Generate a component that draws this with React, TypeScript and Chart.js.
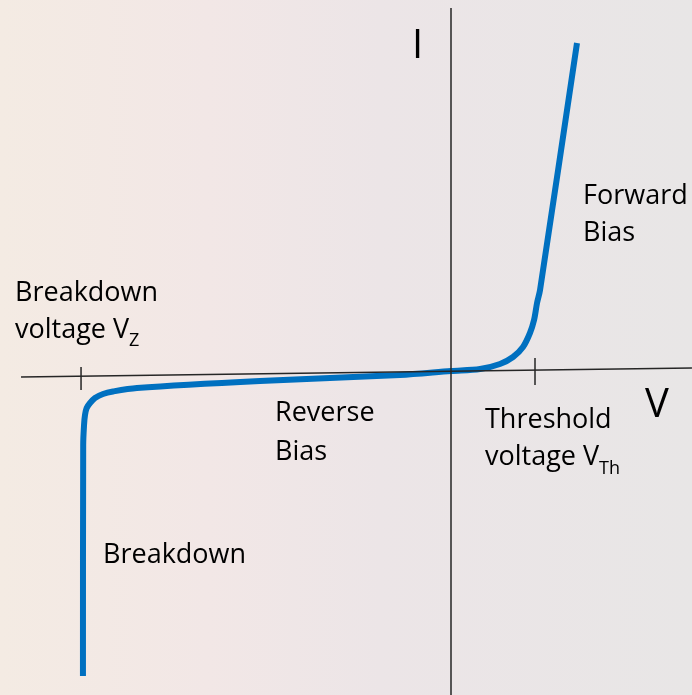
import React, { useEffect, useRef } from "react";
import { Chart, registerables } from "chart.js";

Chart.register(...registerables);

// Diode I-V characteristic (V in volts, I in arbitrary current units)
const curveV = [-3.067, -3.065, -3.058, -3.05, -3.036, -3.008, -2.967, -2.9, -2.817, -2.617, -1.592, -0.425, 0, 0.242, 0.408, 0.517, 0.6, 0.658, 0.692, 0.717, 0.742, 1.05];
const curveI = [-30.5, -7.4, -5.4, -4.4, -3.7, -3.2, -2.7, -2.3, -2.05, -1.7, -1.0, -0.4, 0.0, 0.2, 0.7, 1.4, 2.4, 3.8, 5.1, 6.8, 8.1, 32.8];

// Axes drawn as lines
const vAxisV = [-3.583, 2.008];
const vAxisI = [-0.6, 0.3];
const iAxisV = [0, 0];
const iAxisI = [36.3, -32.4];

// Tick marks
const zenerV = -3.083;
const zenerTickI = [0.4, -1.9];
const thresholdV = 0.7;
const thresholdTickI = [1.3, -1.4];

const V_MIN = -3.7583;
const V_MAX = 2.0083;
const I_MIN = -32.4;
const I_MAX = 37.1;

const toPts = (xs: number[], ys: number[]) => xs.map((x, i) => ({ x, y: ys[i] }));

export default function App() {
  const ref = useRef<HTMLCanvasElement | null>(null);

  useEffect(() => {
    if (!ref.current) return;
    const FONT = "'Open Sans', 'Noto Sans', sans-serif";

    const bgPlugin = {
      id: "bg",
      beforeDraw(chart: any) {
        const { ctx, width, height } = chart;
        ctx.save();
        const g = ctx.createLinearGradient(0, 0, width, 0);
        g.addColorStop(0, "#f4ebe3");
        g.addColorStop(0.3, "#f2e7e6");
        g.addColorStop(0.55, "#ece5e7");
        g.addColorStop(1, "#e8e6e6");
        ctx.fillStyle = g;
        ctx.fillRect(0, 0, width, height);
        ctx.restore();
      },
    };

    const textPlugin = {
      id: "labels",
      afterDatasetsDraw(chart: any) {
        const { ctx } = chart;
        ctx.save();
        ctx.fillStyle = "#000000";
        ctx.textBaseline = "alphabetic";
        ctx.textAlign = "left";
        const t = (s: string, x: number, y: number, size: number) => {
          ctx.font = `${size}px ${FONT}`;
          ctx.fillText(s, x, y);
          return ctx.measureText(s).width;
        };
        const S = 27;
        const SUB = 18;
        t("Breakdown", 15, 301, S);
        let w = t("voltage V", 15, 338, S);
        t("Z", 15 + w, 346, SUB);
        t("Reverse", 275, 421, S);
        t("Bias", 275, 460, S);
        t("Threshold", 485, 428, S);
        w = t("voltage V", 485, 465, S);
        t("Th", 485 + w, 474, SUB);
        t("Forward", 583, 204, S);
        t("Bias", 583, 241, S);
        t("Breakdown", 103, 563, S);
        t("I", 412, 58, 40);
        t("V", 645, 417, 40);
        ctx.restore();
      },
    };

    const axisStyle = {
      borderColor: "#262626",
      borderWidth: 1.5,
      pointRadius: 0,
      tension: 0,
      fill: false,
    };

    const chart = new Chart(ref.current, {
      type: "line",
      data: {
        datasets: [
          { ...axisStyle, data: toPts(vAxisV, vAxisI) },
          { ...axisStyle, data: toPts(iAxisV, iAxisI) },
          { ...axisStyle, data: toPts([zenerV, zenerV], zenerTickI) },
          { ...axisStyle, data: toPts([thresholdV, thresholdV], thresholdTickI) },
          {
            data: toPts(curveV, curveI),
            borderColor: "#0070C0",
            borderWidth: 6,
            pointRadius: 0,
            tension: 0.3,
            fill: false,
            borderCapStyle: "butt",
            borderJoinStyle: "round",
          },
        ],
      },
      options: {
        animation: false,
        responsive: false,
        maintainAspectRatio: false,
        layout: { padding: 0 },
        plugins: { legend: { display: false }, tooltip: { enabled: false } },
        events: [],
        scales: {
          x: { type: "linear", min: V_MIN, max: V_MAX, display: false },
          y: { type: "linear", min: I_MIN, max: I_MAX, display: false },
        },
      },
      plugins: [bgPlugin, textPlugin],
    } as any);

    return () => chart.destroy();
  }, []);

  return (
    <div style={{ position: "absolute", left: 0, top: 0, width: 692, height: 695 }}>
      <canvas ref={ref} width={692} height={695} style={{ display: "block" }} />
    </div>
  );
}
